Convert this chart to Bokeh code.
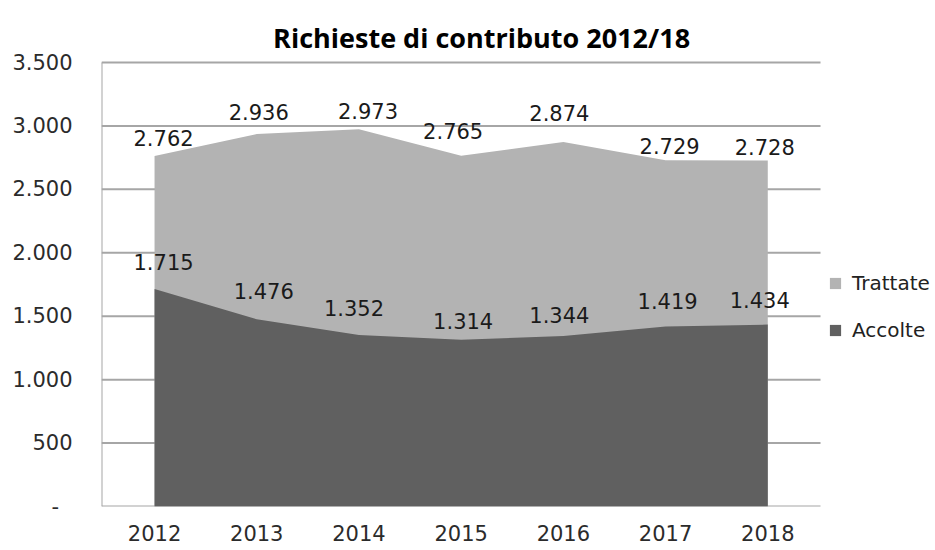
from bokeh.plotting import figure
from bokeh.models import (Range1d, FixedTicker, CustomJSTickFormatter, ColumnDataSource,
                          Legend, LegendItem, Label)
from bokeh.core.properties import value
from bokeh.embed import file_html
from bokeh.resources import INLINE

# ---- data ----
title_text = "Richieste di contributo 2012/18"
years = ["2012", "2013", "2014", "2015", "2016", "2017", "2018"]
trattate = [2762, 2936, 2973, 2765, 2874, 2729, 2728]
accolte = [1715, 1476, 1352, 1314, 1344, 1419, 1434]
y_ticks = [0, 500, 1000, 1500, 2000, 2500, 3000, 3500]

# ---- label placement (pixels, style only) ----
trattate_dx = [9, 2, 9, -8, -4, 4, -3]
trattate_dy = [-18, -22, -18, -25, -29, -14, -13]
accolte_dx = [9, 7, -5, 2, -4, 2, -8]
accolte_dy = [-27, -28, -27, -19, -21, -25, -25]

LIGHT = "#b3b3b3"
DARK = "#606060"
GRID = "#a6a6a6"
FONT = "DejaVu Sans"

# ---- layout constants ----
X_MIN, X_MAX = -0.519, 6.516    # category plot area
X_VIEW_MAX = 7.641              # frame continues under the legend
Y_MAX = 3500
Y_VIEW_MAX = Y_MAX * 506 / 444  # frame continues up under the title


def fmt(v):
    return f"{v:,}".replace(",", ".")


xs = list(range(len(years)))
src = ColumnDataSource(dict(
    x=xs, t=trattate, a=accolte,
    tl=[fmt(v) for v in trattate], al=[fmt(v) for v in accolte],
    tdx=trattate_dx, tdy=trattate_dy, adx=accolte_dx, ady=accolte_dy,
))
grid_src = ColumnDataSource(dict(
    x0=[X_MIN] * len(y_ticks), x1=[X_MAX] * len(y_ticks), y=y_ticks))

p = figure(width=935, height=550, output_backend="svg", toolbar_location=None,
           x_range=Range1d(X_MIN, X_VIEW_MAX), y_range=Range1d(0, Y_VIEW_MAX),
           min_border_left=101, min_border_right=0, min_border_top=0,
           min_border_bottom=44)
p.outline_line_color = None
p.background_fill_color = "white"
p.border_fill_color = "white"

# horizontal gridlines (limited to the category area) and vertical axis line
p.xgrid.grid_line_color = None
p.ygrid.grid_line_color = None
p.segment(x0="x0", y0="y", x1="x1", y1="y", source=grid_src,
          line_color=GRID, line_width=2)
p.segment(x0=[X_MIN], y0=[0], x1=[X_MIN], y1=[Y_MAX],
          line_color=GRID, line_width=2)

# y axis
p.yaxis.ticker = FixedTicker(ticks=y_ticks)
p.yaxis.formatter = CustomJSTickFormatter(code="""
if (tick == 0) { return '-\\u00a0\\u00a0'; }
return Math.round(tick).toString().replace(/\\B(?=(\\d{3})+(?!\\d))/g, '.');
""")
p.yaxis.axis_line_color = None
p.yaxis.major_tick_line_color = None
p.yaxis.minor_tick_line_color = None
p.yaxis.major_tick_out = 0
p.yaxis.major_tick_in = 0
p.yaxis.major_label_standoff = 29
p.yaxis.major_label_text_font = FONT
p.yaxis.major_label_text_font_size = "21px"
p.yaxis.major_label_text_color = "#2b2b2b"

# x axis
p.xaxis.ticker = FixedTicker(ticks=xs)
p.xaxis.major_label_overrides = {i: y for i, y in zip(xs, years)}
p.xaxis.axis_line_color = None
p.xaxis.major_tick_line_color = None
p.xaxis.minor_tick_line_color = None
p.xaxis.major_tick_out = 0
p.xaxis.major_tick_in = 0
p.xaxis.major_label_standoff = 18
p.xaxis.major_label_text_font = FONT
p.xaxis.major_label_text_font_size = "21px"
p.xaxis.major_label_text_color = "#2b2b2b"

# areas (overlapping, not stacked)
r_t = p.varea(x="x", y1=0, y2="t", source=src, fill_color=LIGHT)
r_a = p.varea(x="x", y1=0, y2="a", source=src, fill_color=DARK)

# data labels
p.text(x="x", y="t", text="tl", source=src, x_offset="tdx", y_offset="tdy",
       text_align="center", text_baseline="middle", text_font=value(FONT),
       text_font_size="21px", text_color="#1a1a1a")
p.text(x="x", y="a", text="al", source=src, x_offset="adx", y_offset="ady",
       text_align="center", text_baseline="middle", text_font=value(FONT),
       text_font_size="21px", text_color="#1a1a1a")

# title
p.add_layout(Label(x=3.2, y=Y_MAX * (506 - 37) / 444, text=title_text,
                   text_align="center", text_baseline="alphabetic",
                   text_font="Open Sans", text_font_style="bold",
                   text_font_size="27px", text_color="#000000"))

legend = Legend(items=[LegendItem(label="Trattate", renderers=[r_t]),
                       LegendItem(label="Accolte", renderers=[r_a])],
                location=(727, 164), orientation="vertical",
                glyph_width=14, glyph_height=14, label_standoff=10,
                label_height=24, spacing=23, padding=0, margin=0,
                border_line_color=None, background_fill_alpha=0,
                label_text_font=FONT, label_text_font_size="20px",
                label_text_color="#222222")
p.add_layout(legend, "center")

open("out.html", "w").write(file_html(p, INLINE))
